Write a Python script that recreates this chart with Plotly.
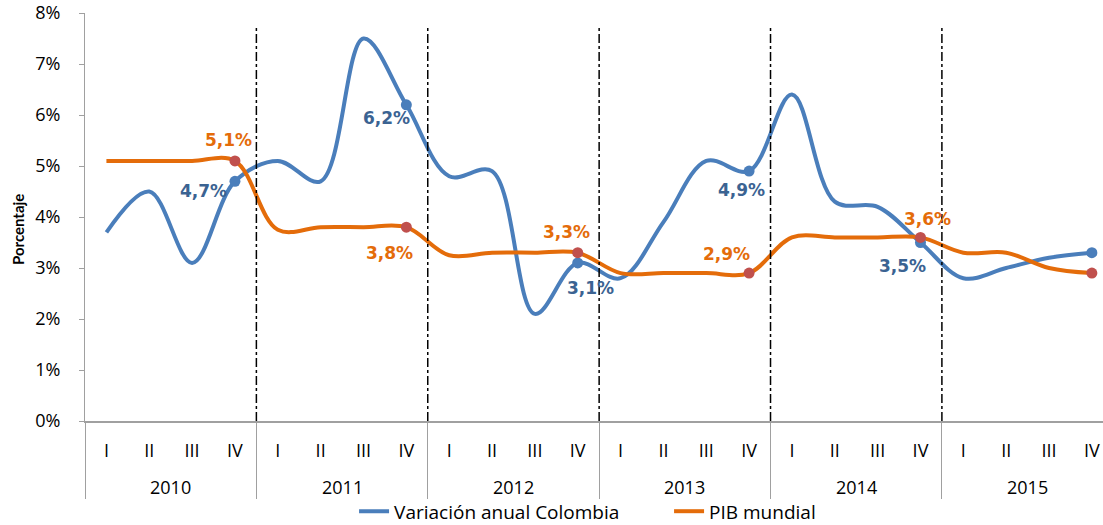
import plotly.graph_objects as go

years = ["2010", "2011", "2012", "2013", "2014", "2015"]
quarters = ["I", "II", "III", "IV"]

colombia = [3.7, 4.5, 3.1, 4.7,
            5.1, 4.7, 7.5, 6.2,
            4.8, 4.9, 2.1, 3.1,
            2.8, 3.9, 5.1, 4.9,
            6.4, 4.3, 4.2, 3.5,
            2.8, 3.0, 3.2, 3.3]
pib_mundial = [5.1, 5.1, 5.1, 5.1,
               3.75, 3.8, 3.8, 3.8,
               3.25, 3.3, 3.3, 3.3,
               2.9, 2.9, 2.9, 2.9,
               3.6, 3.6, 3.6, 3.6,
               3.3, 3.3, 3.0, 2.9]
y_ticks = [0, 1, 2, 3, 4, 5, 6, 7, 8]

BLUE = "#4A7EBB"
BLUE_TXT = "#3B6392"
ORANGE = "#E46C0A"
RED_MK = "#C0504D"
FONT = "Open Sans, Calibri, sans-serif"
LBL_FONT = "DejaVu Sans, Verdana, sans-serif"

n = len(colombia)
x = list(range(n))
q_text = quarters * len(years)
iv_idx = [i for i in x if q_text[i] == "IV"]

fig = go.Figure()
fig.add_trace(go.Scatter(x=x, y=colombia, mode="lines", name="Variación anual Colombia",
                         line=dict(color=BLUE, width=4, shape="spline", smoothing=1)))
fig.add_trace(go.Scatter(x=x, y=pib_mundial, mode="lines", name="PIB mundial",
                         line=dict(color=ORANGE, width=4, shape="spline", smoothing=1)))
fig.add_trace(go.Scatter(x=iv_idx, y=[colombia[i] for i in iv_idx], mode="markers",
                         marker=dict(color=BLUE, size=11), showlegend=False))
fig.add_trace(go.Scatter(x=iv_idx, y=[pib_mundial[i] for i in iv_idx], mode="markers",
                         marker=dict(color=RED_MK, size=11), showlegend=False))


def pct(v):
    return f"{v:.1f}%".replace(".", ",")


# offsets (px) of the data labels at each year's IV quarter; None = no label
blue_off = [(-31, -10), (-20, -13), (13, -25), (-8, -19), (-18, -23), None]
orange_off = [(-6, 21), (-17, -26), (-11, 21), (-23, 19), (7, 18), None]
for k, i in enumerate(iv_idx):
    for vals, off, col in ((colombia, blue_off, BLUE_TXT), (pib_mundial, orange_off, ORANGE)):
        if off[k] is None:
            continue
        fig.add_annotation(x=i, y=vals[i], text=f"<b>{pct(vals[i])}</b>", showarrow=False,
                           xshift=off[k][0], yshift=off[k][1],
                           font=dict(family=LBL_FONT, size=17, color=col))

# year separators
for b in range(4, n, 4):
    fig.add_shape(type="line", x0=b - 0.5, x1=b - 0.5, y0=0, y1=7.75,
                  line=dict(color="black", width=1.5, dash="dashdot"))

# year labels
for k, yr in enumerate(years):
    fig.add_annotation(x=4 * k + 1.5, y=-0.162, yref="paper", yanchor="middle", text=yr,
                       showarrow=False, font=dict(family=FONT, size=18, color="black"))

# y title (sits a bit below the middle, as in the original)
fig.add_annotation(text="<b>Porcentaje</b>", textangle=-90, xref="paper", yref="paper",
                   x=-0.066, y=0.47, xanchor="center", yanchor="middle", showarrow=False,
                   font=dict(family="Lato, sans-serif", size=15, color="black"))

fig.update_xaxes(range=[-0.5, 23.26], tickvals=x, ticktext=q_text, ticks="",
                 ticklabelstandoff=12, tickfont=dict(family=FONT, size=18, color="black"),
                 showline=True, linecolor="#A0A0A0", linewidth=2, showgrid=False,
                 zeroline=False, automargin=False,
                 minor=dict(tickmode="linear", tick0=-0.5, dtick=4, ticks="outside",
                            ticklen=76, tickcolor="#A0A0A0", tickwidth=1))
fig.update_yaxes(range=[0, 8], tickvals=y_ticks, ticktext=[f"{v}%" for v in y_ticks],
                 ticks="outside", ticklen=5, tickcolor="#A0A0A0", ticklabelstandoff=15,
                 tickfont=dict(family=FONT, size=18, color="black"),
                 showline=True, linecolor="#A0A0A0", linewidth=1, showgrid=False,
                 zeroline=False, automargin=False)
fig.update_layout(
    width=1103, height=525,
    margin=dict(l=85, r=0, t=13, b=104),
    paper_bgcolor="white", plot_bgcolor="white",
    showlegend=True,
    legend=dict(orientation="h", xref="container", yref="container",
                x=0.321, xanchor="left", y=0.026, yanchor="middle",
                entrywidth=270, tracegroupgap=0,
                font=dict(family=FONT, size=19, color="black"),
                bgcolor="rgba(0,0,0,0)"),
)
fig.write_html("out.html", config={"displayModeBar": False},
               post_script="document.body.style.margin='0';")
